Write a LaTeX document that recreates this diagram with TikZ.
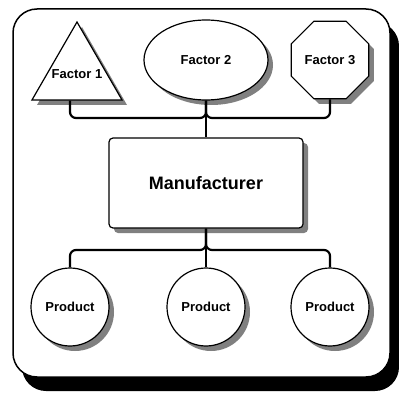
\documentclass[tikz,border=0pt]{standalone}
\usepackage{fontspec}
\setmainfont{Liberation Sans}
\usetikzlibrary{shapes.geometric}

\begin{document}
\begin{tikzpicture}[x=1pt,y=-1pt,
    outline/.style={draw, line width=1.2pt, fill=white},
    shadowfill/.style={fill=black!50},
    link/.style={line width=2.2pt, rounded corners=6pt},
    smalltext/.style={font=\fontsize{13}{15}\selectfont\bfseries}]
    \useasboundingbox (0,0) rectangle (399,393);
    % frame
    \fill[rounded corners=24pt] (22,22) rectangle (399,391);
    \draw[line width=1.5pt, fill=white, rounded corners=24pt] (13,9) rectangle (390,377);
    % shadows
    \path[shadowfill] (82,27) -- (37,105) -- (127,105) -- cycle;
    \path[shadowfill] (211,65) ellipse (62 and 40);
    \path[shadowfill] (335,65) +(22.5:42) \foreach \a in {67.5,112.5,...,337.5}{ -- +(\a:42)} -- cycle;
    \path[shadowfill, rounded corners=4pt] (114,143) rectangle (308,233);
    \foreach \x in {75,211,335}
        \path[shadowfill] (\x,312) circle (39);
    % factors
    \node[regular polygon, regular polygon sides=3, minimum size=104pt, inner sep=0pt, outline,
        label={[smalltext]center:Factor 1}] (f1) at (77,74) {};
    \node[ellipse, minimum width=124pt, minimum height=80pt, outline, smalltext] (f2) at (206,60) {Factor 2};
    \node[regular polygon, regular polygon sides=8, minimum size=84pt, inner sep=0pt, outline,
        label={[smalltext]center:Factor 3}] (f3) at (330,60) {};
    % manufacturer
    \node[rectangle, rounded corners=4pt, minimum width=194pt, minimum height=90pt, outline,
        font=\fontsize{18}{21}\selectfont\bfseries] (man) at (206,183) {Manufacturer};
    % products
    \node[circle, minimum size=78pt, outline, smalltext] (p1) at (70,307) {Product};
    \node[circle, minimum size=78pt, outline, smalltext] (p2) at (206,307) {Product};
    \node[circle, minimum size=78pt, outline, smalltext] (p3) at (330,307) {Product};
    \coordinate (top) at (206,118);
    \coordinate (bot) at (206,250);
    % links
    \draw[link] ([xshift=-7pt]f1.south) |- (top) -- (f2.south);
    \draw[link] (f3.south) |- (top) -- (f2.south);
    \draw[link] (f2.south) -- (man.north);
    \draw[link] (man.south) -- (bot) -| (p1.north);
    \draw[link] (man.south) -- (bot) -| (p3.north);
    \draw[link] (man.south) -- (p2.north);
\end{tikzpicture}
\end{document}
